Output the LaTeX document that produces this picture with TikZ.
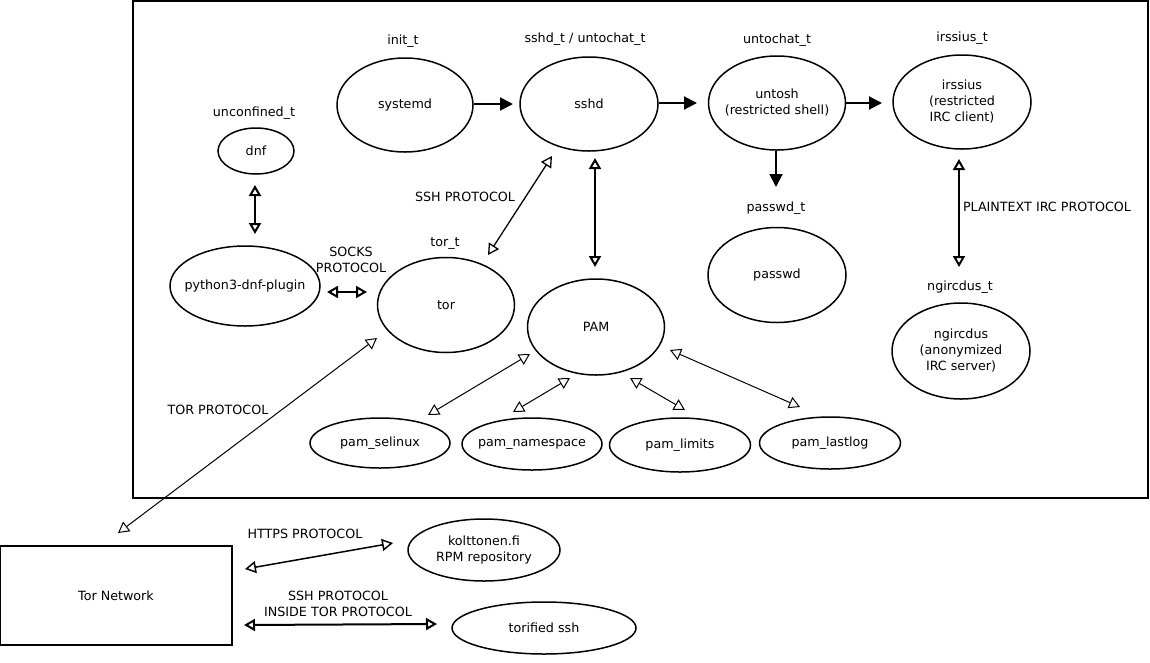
\documentclass[tikz,border=0pt]{standalone}
\usepackage{fontspec}
\setmainfont{DejaVu Sans}
\usetikzlibrary{arrows.meta,shapes.geometric,calc}
\begin{document}
\begin{tikzpicture}[x=1pt,y=-1pt,
  every node/.style={font=\fontsize{12.7}{16}\selectfont, inner sep=0pt, align=center},
  ell/.style={draw, ellipse, line width=1.5pt},
  lbl/.style={},
  fwd/.style={line width=2pt, -{Triangle[length=13pt,width=13pt]}},
  bi/.style={{Triangle[open,length=11pt,width=12pt]}-{Triangle[open,length=11pt,width=12pt]}},
  thinline/.style={line width=1pt},
  midline/.style={line width=1.5pt},
  thickline/.style={line width=2pt}]
\useasboundingbox (0,0) rectangle (1150,662);
\draw[line width=1.5pt] (133,1) rectangle (1148,498);

% ellipses (text set as centred labels so that the outline keeps its size)
\node[ell, minimum width=136pt, minimum height=94pt, label={center:systemd}] (systemd) at (405,105) {};
\node[ell, minimum width=138pt, minimum height=94pt, label={center:sshd}] (sshd) at (589,104) {};
\node[ell, minimum width=137pt, minimum height=94pt, label={center:untosh\\(restricted shell)}] (untosh) at (777,103) {};
\node[ell, minimum width=138pt, minimum height=94pt, label={center:irssius\\(restricted\\IRC client)}] (irssius) at (962,102) {};
\node[ell, minimum width=76pt, minimum height=46pt, label={center:dnf}] (dnf) at (256,151) {};
\node[ell, minimum width=150pt, minimum height=80pt, label={center:python3-dnf-plugin}] (python) at (245,286) {};
\node[ell, minimum width=137pt, minimum height=95pt, label={center:tor}] (tor) at (446,305) {};
\node[ell, minimum width=137pt, minimum height=96pt, label={center:PAM}] (PAM) at (596,327) {};
\node[ell, minimum width=138pt, minimum height=95pt, label={center:passwd}] (passwd) at (777,275) {};
\node[ell, minimum width=138pt, minimum height=96pt, label={center:ngircdus\\(anonymized\\IRC server)}] (ngircdus) at (961,351) {};
\node[ell, minimum width=140pt, minimum height=50pt, label={center:pam\_selinux}] (selinux) at (380,443) {};
\node[ell, minimum width=140pt, minimum height=52pt, label={center:pam\_namespace}] (namespace) at (532,444) {};
\node[ell, minimum width=141pt, minimum height=54pt, label={center:pam\_limits}] (limits) at (680,445) {};
\node[ell, minimum width=141pt, minimum height=52pt, label={center:pam\_lastlog}] (lastlog) at (830,443) {};
\node[ell, minimum width=152pt, minimum height=62pt, label={center:kolttonen.fi\\RPM repository}] (kolttonen) at (484,550) {};
\node[ell, minimum width=184pt, minimum height=52pt, label={center:torified ssh}] (torified) at (544,628) {};
\node[draw, line width=2pt, minimum width=232pt, minimum height=99pt] (tornet) at (116,595.5) {Tor Network};

% type labels
\node[lbl] (initt) at (403,41) {init\_t};
\node[lbl] (sshdt) at (585,39) {sshd\_t / untochat\_t};
\node[lbl] (untochatt) at (777,40) {untochat\_t};
\node[lbl] (irssiust) at (962,38) {irssius\_t};
\node[lbl] (unconfinedt) at (254,113) {unconfined\_t};
\node[lbl] (passwdt) at (776,208) {passwd\_t};
\node[lbl] (tort) at (445,244) {tor\_t};
\node[lbl] (ngircdust) at (960,287) {ngircdus\_t};

% protocol labels
\node[lbl] (sshproto) at (465,197) {SSH PROTOCOL};
\node[lbl] (socks) at (351,260) {SOCKS\\PROTOCOL};
\node[lbl] (torproto) at (218,410) {TOR PROTOCOL};
\node[lbl] (ircproto) at (1047,207) {PLAINTEXT IRC PROTOCOL};
\node[lbl] (https) at (305,534) {HTTPS PROTOCOL};
\node[lbl] (sshtor) at (338,604) {SSH PROTOCOL\\INSIDE TOR PROTOCOL};

% connectors
\draw[fwd] ($(systemd)+(69,-1)$) -- ($(sshd)+(-76,0)$);
\draw[fwd] ($(sshd)+(70,-1)$) -- ($(untosh)+(-80,0)$);
\draw[fwd] ($(untosh)+(69,0)$) -- ($(irssius)+(-80,1)$);
\draw[fwd] ($(untosh)+(-1,48)$) -- ($(passwd)+(-1,-88)$);

\draw[bi, line width=1.3pt] ($(sshd)+(-37,52)$) -- ($(tor)+(42,-50)$);
\draw[bi, thickline] ($(sshd)+(6,54)$) -- ($(PAM)+(-1,-60)$);
\draw[bi, thickline] ($(dnf)+(-1,34)$) -- ($(python)+(10,-52)$);
\draw[bi, thickline] ($(python)+(82,6)$) -- ($(tor)+(-79,-13)$);
\draw[bi, thickline] ($(irssius)+(-3,57)$) -- ($(ngircdus)+(-2,-84)$);
\draw[bi, thinline] ($(tor)+(-69,33)$) -- ($(tornet)+(2,-62.5)$);
\draw[bi, thinline] ($(PAM)+(-66,27)$) -- ($(selinux)+(48,-28)$);
\draw[bi, thinline] ($(PAM)+(-26,51)$) -- ($(namespace)+(-19,-32)$);
\draw[bi, thinline] ($(PAM)+(34,51)$) -- ($(limits)+(5,-35)$);
\draw[bi, thinline] ($(PAM)+(74,23)$) -- ($(lastlog)+(-30,-36)$);
\draw[bi, midline] ($(tornet)+(129,-26.5)$) -- ($(kolttonen)+(-91,-7)$);
\draw[bi, thickline] ($(tornet)+(128,29.5)$) -- ($(torified)+(-107,-4)$);
\end{tikzpicture}
\end{document}
